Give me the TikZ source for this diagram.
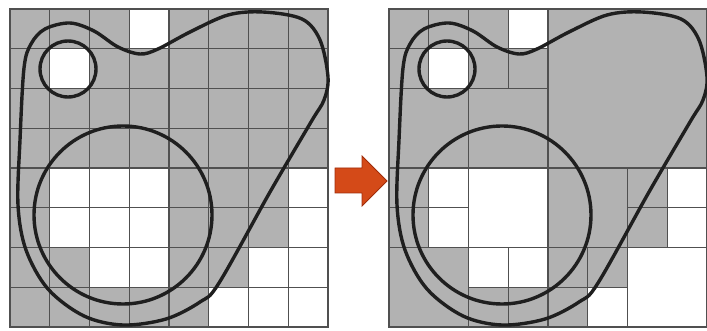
\documentclass[tikz,border=0pt]{standalone}
\definecolor{cellgray}{RGB}{178,178,178}
\definecolor{gridline}{RGB}{80,80,80}
\definecolor{arrowfill}{RGB}{212,74,24}
\definecolor{arrowedge}{RGB}{160,44,10}
\begin{document}
\begin{tikzpicture}[x=1pt,y=-1pt,
    cell/.style={draw=gridline,line width=1.1pt},
    curve/.style={draw=black!88,line width=3.4pt},
    arrowbox/.style={fill=arrowfill,draw=arrowedge,line width=0.8pt}]
  \useasboundingbox (0,0) rectangle (707,331);
  % pixel grid, one cell per pixel
  \begin{scope}[shift={(10,9)}]
    \foreach \c in {0,...,7}{ \foreach \r in {0,...,7}{
      \draw[cell,fill=cellgray] (39.75*\c,39.75*\r) rectangle ++(39.75,39.75); }}
    \foreach \c/\r in {3/0,1/1,1/4,2/4,3/4,7/4,1/5,2/5,3/5,7/5,
                       2/6,3/6,6/6,7/6,5/7,6/7,7/7}{
      \draw[cell,fill=white] (39.75*\c,39.75*\r) rectangle ++(39.75,39.75); }
  \end{scope}
  % quadtree: merged blocks
  \begin{scope}[shift={(389,9)}]
    \foreach \c/\r/\s/\f in {0/0/1/cellgray,1/0/1/cellgray,0/1/1/cellgray,1/1/1/white,
        2/0/1/cellgray,3/0/1/white,2/1/1/cellgray,3/1/1/cellgray,
        0/2/2/cellgray,2/2/2/cellgray,4/0/4/cellgray,
        0/4/1/cellgray,1/4/1/white,0/5/1/cellgray,1/5/1/white,2/4/2/white,
        0/6/2/cellgray,2/6/1/white,3/6/1/white,2/7/1/cellgray,3/7/1/cellgray,
        4/4/2/cellgray,6/4/1/cellgray,7/4/1/white,6/5/1/cellgray,7/5/1/white,
        4/6/1/cellgray,5/6/1/cellgray,4/7/1/cellgray,5/7/1/white,6/6/2/white}{
      \draw[cell,fill=\f] (39.75*\c,39.75*\r) rectangle ++(39.75*\s,39.75*\s); }
  \end{scope}
  % region outlines
  \foreach \dx in {0,379}{
    \begin{scope}[xshift=\dx pt]
      \draw[curve] plot[smooth cycle,tension=0.55] coordinates {
        (24,68) (20,140) (18,205) (26,250) (48,289) (84,316) (123,325)
        (166,319) (200,302) (219,283) (270,192) (311,122) (324,100) (328,77)
        (320,40) (302,19) (263,12) (228,15) (190,32) (158,49) (140,54)
        (118,47) (94,31) (70,23) (45,29) (31,44)};
      \draw[curve] (68,69) circle (28);
      \draw[curve] (123,215) circle (89);
    \end{scope}
  }
  % arrow
  \draw[arrowbox] (335,168) -- (362,168) -- (362,156) -- (387,181)
    -- (362,206) -- (362,193) -- (335,193) -- cycle;
\end{tikzpicture}
\end{document}
